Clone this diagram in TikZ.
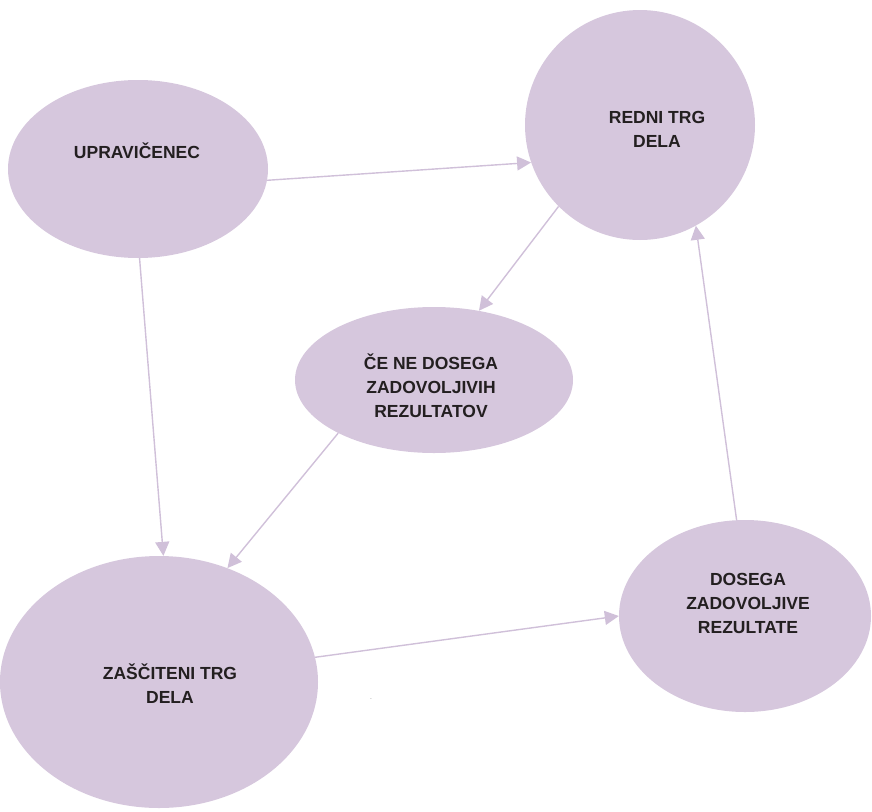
\documentclass[tikz,border=0pt]{standalone}
\usepackage{fontspec}
\setmainfont{Liberation Sans}
\usetikzlibrary{shapes.geometric,arrows.meta}
\definecolor{lilac}{RGB}{214,199,221}
\definecolor{lilacline}{RGB}{208,192,217}
\definecolor{inkdark}{RGB}{35,31,32}
\tikzset{
    bubble/.style = {ellipse, fill=lilac, inner sep=0pt},
    caption/.style = {align=center, anchor=base, text=inkdark,
        font=\fontsize{17.5}{24}\selectfont\bfseries},
    link/.style = {draw=lilacline, line width=1.4pt,
        -{Triangle[length=14pt, width=14pt]}}
}
\begin{document}
\begin{tikzpicture}[x=1pt, y=-1pt]
        \useasboundingbox (0, 0) rectangle (872, 811);
        % bubbles
        \node [bubble, minimum width=260pt, minimum height=178pt] (upr) at (138, 169) {};
        \node [bubble, minimum width=230pt, minimum height=230pt] (redni) at (640, 125) {};
        \node [bubble, minimum width=278pt, minimum height=146pt] (ce) at (434, 380) {};
        \node [bubble, minimum width=318pt, minimum height=252pt] (zasc) at (159, 682) {};
        \node [bubble, minimum width=252pt, minimum height=192pt] (dosega) at (745, 616) {};
        % texts (base = last line)
        \node [caption] (uprtext) at (137, 158) {UPRAVIČENEC};
        \node [caption] (rednitext) at (657, 147) {REDNI TRG\\DELA};
        \node [caption] (cetext) at (431, 417) {ČE NE DOSEGA\\ZADOVOLJIVIH\\REZULTATOV};
        \node [caption] (zasctext) at (170, 703) {ZAŠČITENI TRG\\DELA};
        \node [caption] (dosegatext) at (748, 633) {DOSEGA\\ZADOVOLJIVE\\REZULTATE};
        \node [text=inkdark, font=\tiny] (dot) at (371, 699) {.};
        % arrows
        \draw [link] (upr.-5) -- (redni.199);
        \draw [link] (upr.-89) -- (zasc.88);
        \draw [link] (redni.225) -- (ce.57);
        \draw [link] (ce.209) -- (zasc.59);
        \draw [link] (zasc.9) -- (dosega.180);
        \draw [link] (dosega.95) -- (redni.299);
    \end{tikzpicture}
\end{document}
